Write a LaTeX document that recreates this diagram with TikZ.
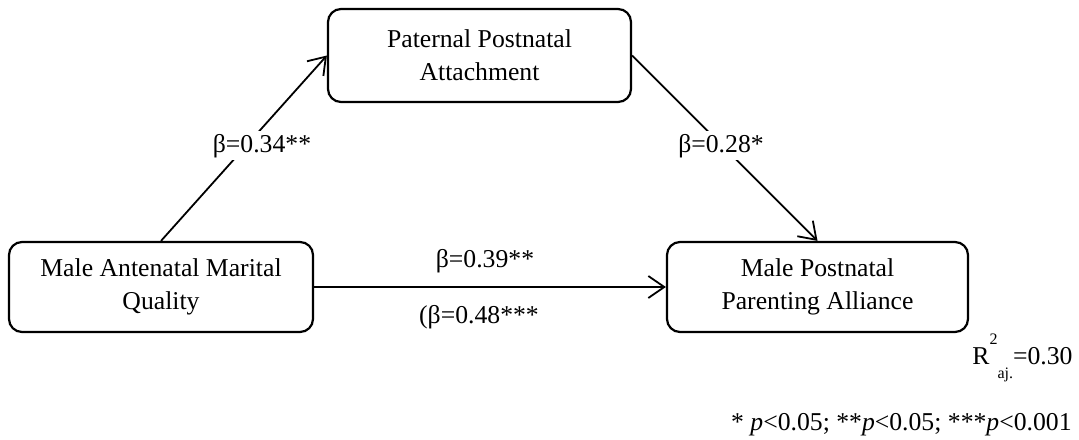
\documentclass[tikz,border=0pt]{standalone}
\usepackage{fontspec}
\setmainfont{Liberation Serif}
\usetikzlibrary{arrows.meta}
\begin{document}
\begin{tikzpicture}[x=0.5pt,y=-0.5pt,
  txt/.style={font=\fontsize{12.85pt}{16.5pt}\selectfont},
  box/.style={txt, draw, line width=1.1pt, rounded corners=6.5pt, align=center,
    minimum width=151.5pt, minimum height=45pt, inner sep=0pt},
  lbl/.style={txt, fill=white, inner sep=1.5pt, anchor=base},
  arr/.style={-{Straight Barb[length=8pt,width=11pt,line width=0.9pt]}, line width=0.9pt}]
\useasboundingbox (0,0) rectangle (1079,439);
\node[box, minimum height=46.5pt] (pa) at (479.5,55.5) {Paternal Postnatal\\Attachment};
\node[box, minimum width=152pt] (mq) at (161,287) {Male Antenatal Marital\\Quality};
\node[box, minimum width=150.5pt] (pp) at (817.5,287) {Male Postnatal\\Parenting Alliance};
\draw[arr] (mq.north) -- (pa.west);
\draw[arr] (pa.east) -- (pp.north);
\draw[arr] (mq.east) -- (pp.west);
\node[lbl] (l1) at (262,152) {β=0.34**};
\node[lbl] (l2) at (721,152) {β=0.28*};
\node[lbl] (l3) at (485,267) {β=0.39**};
\node[lbl] (l4) at (479,323) {(β=0.48***};
\node[txt, anchor=base west, inner sep=0pt] (r2) at (972,364)
  {R\raisebox{10pt}{\fontsize{8pt}{8pt}\selectfont 2}\raisebox{-7pt}{\fontsize{8pt}{8pt}\selectfont aj.}=0.30};
\node[txt, anchor=base east, inner sep=0pt] (fn) at (1072,430)
  {* \textit{p}<0.05; **\textit{p}<0.05; ***\textit{p}<0.001};
\end{tikzpicture}
\end{document}
